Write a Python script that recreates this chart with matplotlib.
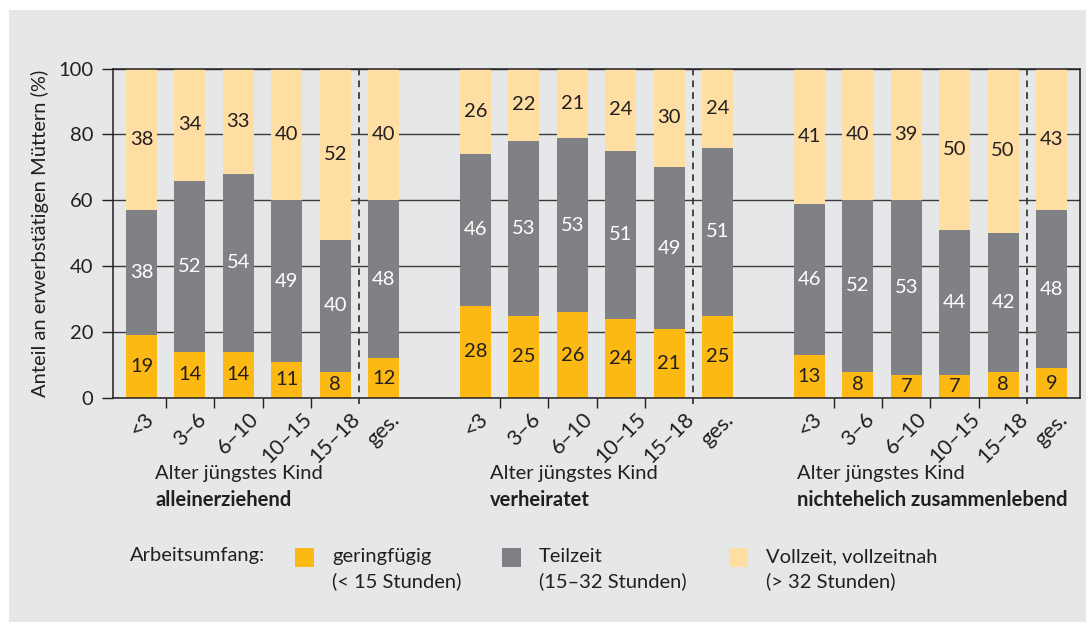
import numpy as np
import matplotlib.pyplot as plt
from matplotlib import font_manager
from matplotlib.patches import Rectangle

# data (percent of employed mothers)
age_labels = ['<3', '3–6', '6–10', '10–15', '15–18', 'ges.']
group_names = ['alleinerziehend', 'verheiratet', 'nichtehelich zusammenlebend']
geringfuegig = [[19, 14, 14, 11, 8, 12],
                [28, 25, 26, 24, 21, 25],
                [13, 8, 7, 7, 8, 9]]
teilzeit = [[38, 52, 54, 49, 40, 48],
            [46, 53, 53, 51, 49, 51],
            [46, 52, 53, 44, 42, 48]]
vollzeit = [[38, 34, 33, 40, 52, 40],
            [26, 22, 21, 24, 30, 24],
            [41, 40, 39, 50, 50, 43]]
legend_names = ['geringfügig\n(< 15 Stunden)', 'Teilzeit\n(15–32 Stunden)',
                'Vollzeit, vollzeitnah\n(> 32 Stunden)']


def pick_font():
    for name in ['Liberation Sans Narrow', 'Lato']:
        try:
            font_manager.findfont(name, fallback_to_default=False)
            return name
        except ValueError:
            pass
    return 'DejaVu Sans'


plt.rcParams['font.family'] = [pick_font(), 'DejaVu Sans']

W, H = 1086, 622
panel = '#e6e7e8'
dark = '#231f20'
c_ger = '#fcb813'
c_teil = '#808184'
c_voll = '#fedea2'

fig = plt.figure(figsize=(W / 100, H / 100), dpi=100)
fig.patch.set_facecolor('white')
fig.patches.append(Rectangle((9 / W, 0), 1 - 9 / W, 1 - 10 / H, transform=fig.transFigure,
                             facecolor=panel, edgecolor='none', zorder=-10))

ax = fig.add_axes([113 / W, 1 - 398 / H, (1080 - 113) / W, (398 - 68.5) / H])
ax.set_facecolor('none')
ax.set_zorder(1)

bw = 0.64
all_x = []
minor_x = []
for gi in range(3):
    xs = np.arange(6) + gi * 6.9
    g = np.array(geringfuegig[gi])
    t = np.array(teilzeit[gi])
    v = np.array(vollzeit[gi])
    top = 100 - g - t  # top segment fills the bar up to 100
    ax.bar(xs, g, width=bw, color=c_ger, zorder=2)
    ax.bar(xs, t, bottom=g, width=bw, color=c_teil, zorder=2)
    ax.bar(xs, top, bottom=g + t, width=bw, color=c_voll, zorder=2)
    for x, a, b, c, d in zip(xs, g, t, v, top):
        ax.text(x, a / 2, str(a), ha='center', va='center', fontsize=14.5, color=dark, zorder=4)
        ax.text(x, a + b / 2, str(b), ha='center', va='center', fontsize=14.5, color='white', zorder=4)
        ax.text(x, a + b + d / 2, str(c), ha='center', va='center', fontsize=14.5, color=dark, zorder=4)
    ax.plot([xs[4] + 0.5] * 2, [-1.8, 100], ls=(0, (3.7, 2.8)), lw=1.3, color='#3a3a3a',
            clip_on=False, zorder=3)
    minor_x += list(xs[:4] + 0.5)
    all_x += list(xs)

ax.set_xlim(-0.59, 19.39)
ax.set_ylim(0, 100)
ax.set_xticks(all_x)
ax.set_xticks(minor_x, minor=True)
ax.set_xticklabels(age_labels * 3, rotation=45, ha='center', va='top', fontsize=15.5, color=dark)
ax.tick_params(axis='x', which='major', length=0, pad=8)
ax.tick_params(axis='x', which='minor', length=7, width=1, color=dark)
ax.set_yticks(range(0, 101, 20))
ax.tick_params(axis='y', length=8, width=1, color=dark, pad=6, labelsize=14.5, labelcolor=dark)
ax.yaxis.grid(True, color='#3a3a3a', lw=1)
ax.set_axisbelow(True)
for s in ax.spines.values():
    s.set_color(dark)
    s.set_linewidth(1.1)

fig.text(40 / W, 1 - 233 / H, 'Anteil an erwerbstätigen Müttern (%)', rotation=90,
         ha='center', va='center', fontsize=14.5, color=dark)

for x0, name in zip([155, 490, 797], group_names):
    fig.text(x0 / W, 1 - 474 / H, 'Alter jüngstes Kind', ha='left', va='center',
             fontsize=14.5, color=dark)
    fig.text(x0 / W, 1 - 500 / H, name, ha='left', va='center', fontsize=14.5,
             fontweight='bold', color=dark)

# legend
fig.text(130 / W, 1 - 555 / H, 'Arbeitsumfang:', ha='left', va='center', fontsize=14.5, color=dark)
for sx, col, lab in zip([295, 502, 729], [c_ger, c_teil, c_voll], legend_names):
    fig.patches.append(Rectangle((sx / W, 1 - 567 / H), 19 / W, 19 / H,
                                 transform=fig.transFigure, facecolor=col, edgecolor='none'))
    fig.text((sx + 37) / W, 1 - 569 / H, lab, ha='left', va='center', fontsize=14.5,
             color=dark, linespacing=1.45)

fig.savefig('out.png', dpi=100, facecolor=fig.get_facecolor())
